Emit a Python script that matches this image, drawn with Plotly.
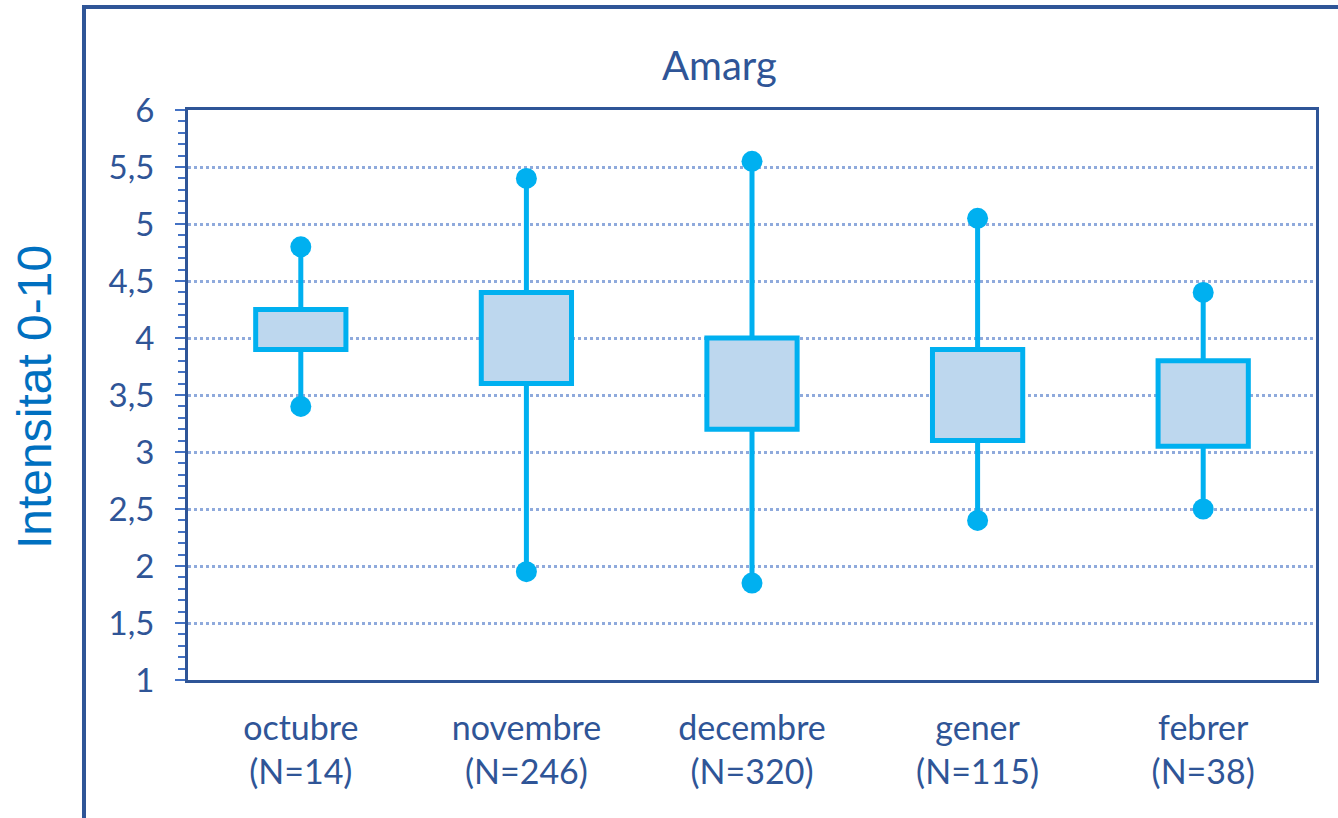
import plotly.graph_objects as go

# Monthly bitterness ("Amarg") intensity summary
months = ["octubre", "novembre", "decembre", "gener", "febrer"]
counts = [14, 246, 320, 115, 38]
whisker_low = [3.4, 1.95, 1.85, 2.4, 2.5]
box_low = [3.9, 3.6, 3.2, 3.1, 3.05]
box_high = [4.25, 4.4, 4.0, 3.9, 3.8]
whisker_high = [4.8, 5.4, 5.55, 5.05, 4.4]

DARK = "#2F5597"
CYAN = "#00B0F0"
FILL = "#BDD7EE"
GRID = "#8FAADC"
TICK = "#4472C4"
FONT = "Lato"

labels = [f"{m}<br>(N={n})" for m, n in zip(months, counts)]

# whisker segments: lower fence -> box bottom, box top -> upper fence
wx, wy = [], []
for lab, lo, q1, q3, hi in zip(labels, whisker_low, box_low, box_high, whisker_high):
    wx += [lab, lab, None, lab, lab, None]
    wy += [lo, q1, None, q3, hi, None]

fig = go.Figure()

fig.add_trace(go.Bar(
    x=labels,
    y=[h - l for h, l in zip(box_high, box_low)],
    base=box_low,
    width=0.4,
    marker=dict(color=FILL, line=dict(color=CYAN, width=5)),
    hoverinfo="skip",
))

fig.add_trace(go.Scatter(
    x=wx, y=wy, mode="lines",
    line=dict(color=CYAN, width=5),
    hoverinfo="skip",
))

fig.add_trace(go.Scatter(
    x=labels + labels,
    y=whisker_low + whisker_high,
    mode="markers",
    marker=dict(color=CYAN, size=21),
    hoverinfo="skip",
))

fig.update_layout(
    width=1338,
    height=818,
    margin=dict(l=188, r=22, t=110, b=138),
    paper_bgcolor="white",
    plot_bgcolor="white",
    showlegend=False,
    separators=",.",
    font=dict(family=FONT, color=DARK),
    xaxis=dict(
        type="category",
        range=[-0.5, 4.5],
        showline=True, linecolor=DARK, linewidth=3, mirror=True,
        showgrid=False, ticks="", zeroline=False,
        tickfont=dict(family=FONT, size=34, color=DARK),
        ticklabelstandoff=16,
    ),
    yaxis=dict(
        range=[1, 6],
        dtick=0.5,
        showline=True, linecolor=DARK, linewidth=3, mirror=True,
        showgrid=True, gridcolor=GRID, gridwidth=3, griddash="dot",
        zeroline=False,
        ticks="outside", ticklen=10, tickwidth=2, tickcolor=TICK,
        minor=dict(dtick=0.1, ticks="outside", ticklen=7, tickwidth=2,
                   tickcolor=TICK, showgrid=False),
        tickfont=dict(family=FONT, size=33, color=DARK),
        ticklabelstandoff=14,
    ),
    shapes=[dict(
        type="rect", xref="paper", yref="paper",
        x0=-0.0922, x1=1.03, y0=-0.3, y1=1.1807,
        line=dict(color=DARK, width=4), fillcolor="rgba(0,0,0,0)",
    )],
    annotations=[
        dict(text="Amarg", xref="paper", yref="paper",
             x=0.4716, y=1.079, xanchor="center", yanchor="middle",
             showarrow=False, font=dict(family=FONT, size=40, color=DARK)),
        dict(text="Intensitat 0-10", xref="paper", yref="paper",
             x=-0.1356, y=0.4965, xanchor="center", yanchor="middle",
             textangle=-90, showarrow=False,
             font=dict(family="Liberation Sans", size=48, color="#0070C0")),
    ],
)

fig.write_html("out.html")
